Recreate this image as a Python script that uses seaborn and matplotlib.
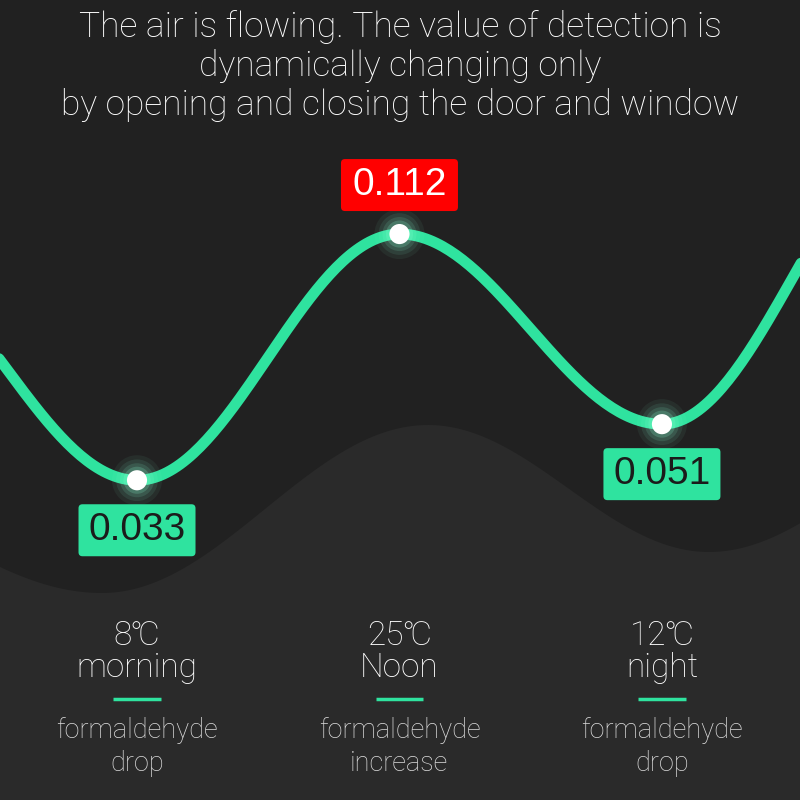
import numpy as np
import pandas as pd
import matplotlib
matplotlib.use("Agg")
import matplotlib.pyplot as plt
import seaborn as sns
from matplotlib.patches import FancyBboxPatch
from matplotlib.transforms import IdentityTransform, blended_transform_factory

# ---------------- data ----------------
title_lines = [
    "The air is flowing. The value of detection is",
    "dynamically changing only",
    "by opening and closing the door and window",
]
periods = ["morning", "Noon", "night"]
temps = ["8℃", "25℃", "12℃"]
values = [0.033, 0.112, 0.051]
value_labels = ["0.033", "0.112", "0.051"]
trends = ["formaldehyde\ndrop", "formaldehyde\nincrease", "formaldehyde\ndrop"]
# estimated curve level just beyond the left / right edges
edge_values = [0.1052, 0.1455]

# ---------------- style ----------------
BG = "#212121"
BG2 = "#2a2a2a"
GREEN = "#2fe39f"
RED = "#ff0000"

sns.set_theme(style="dark")
plt.rcParams["font.family"] = ["Roboto", "DejaVu Sans"]

fig = plt.figure(figsize=(8, 8), dpi=100, facecolor=BG)

# decorative background hump (pixel coordinates)
bg = fig.add_axes([0, 0, 1, 1], zorder=0)
bg.set_xlim(0, 800)
bg.set_ylim(800, 0)
bg.set_facecolor(BG)
bg.axis("off")
hx = [-224, 102, 428, 709, 990]
hy = [476, 593, 425, 552, 431]
px, py = [], []
for i in range(len(hx) - 1):
    t = np.linspace(0, 1, 80)
    px.extend(hx[i] + (hx[i + 1] - hx[i]) * t)
    py.extend(hy[i] + (hy[i + 1] - hy[i]) * (1 - np.cos(np.pi * t)) / 2)
bg.fill_between(px, py, 800, color=BG2, lw=0)

# main axes
ax = fig.add_axes([0, 0, 1, 1], zorder=1)
ax.set_facecolor("none")

anchor_x = list(range(-1, len(values) + 1))
anchor_v = [edge_values[0]] + values + [edge_values[1]]
cx, cv = [], []
for i in range(len(anchor_x) - 1):
    t = np.linspace(0, 1, 80)
    cx.extend(anchor_x[i] + t)
    cv.extend(anchor_v[i] + (anchor_v[i + 1] - anchor_v[i]) * (1 - np.cos(np.pi * t)) / 2)
curve = pd.DataFrame({"x": cx, "v": cv})
sns.lineplot(data=curve, x="x", y="v", ax=ax, color=GREEN, lw=7.8,
             sort=False, estimator=None, zorder=2)

pts = pd.DataFrame({"x": range(len(values)), "v": values})
for s, a in [(1300, 0.06), (900, 0.09), (600, 0.13), (380, 0.2)]:
    sns.scatterplot(data=pts, x="x", y="v", ax=ax, s=s, color="#8affd2",
                    alpha=a, edgecolor="none", zorder=3, legend=False)
sns.scatterplot(data=pts, x="x", y="v", ax=ax, s=210, color="white",
                edgecolor="none", zorder=4, legend=False)
ax.set_xlim(-0.522, 2.526)
ax.set_ylim(-0.0696, 0.1871)
ax.axis("off")

# value label boxes
fig.canvas.draw()
peak = int(np.argmax(values))
for i, (v, lab) in enumerate(zip(values, value_labels)):
    dx, dy = ax.transData.transform((i, v))
    if i == peak:
        cy, fc, tc = dy + 49, RED, "white"
    else:
        cy, fc, tc = dy - 50, GREEN, "#1b1b1b"
    w, h = 117, 52
    box = FancyBboxPatch((dx - w / 2, cy - h / 2), w, h,
                         boxstyle="round,pad=0,rounding_size=4",
                         fc=fc, ec="none", transform=IdentityTransform(),
                         zorder=5)
    fig.add_artist(box)
    fig.text(dx / 800, cy / 800, lab, ha="center", va="center",
             fontsize=28, color=tc, family=["Liberation Sans", "DejaVu Sans"],
             zorder=6)

# title
for k, line in enumerate(title_lines):
    fig.text(0.5, 1 - (27 + 39 * k) / 800, line, ha="center", va="center",
             fontsize=25.5, color="white", fontweight="light")

# bottom captions
tr = blended_transform_factory(ax.transData, ax.transAxes)
for i in range(len(values)):
    ax.text(i, 1 - 636 / 800, temps[i], transform=tr, ha="center",
            va="center", fontsize=24, color="white", fontweight="light")
    ax.text(i, 1 - 668 / 800, periods[i], transform=tr, ha="center",
            va="center", fontsize=24, color="white", fontweight="light")
    ax.plot([i - 0.09, i + 0.09], [1 - 699 / 800] * 2, transform=tr,
            color=GREEN, lw=2.5, solid_capstyle="butt")
    ax.text(i, 1 - 747 / 800, trends[i], transform=tr, ha="center",
            va="center", fontsize=19.5, color="#dcdcdc", linespacing=1.25,
            fontweight="light")

fig.savefig("out.png", dpi=100, facecolor=BG)
